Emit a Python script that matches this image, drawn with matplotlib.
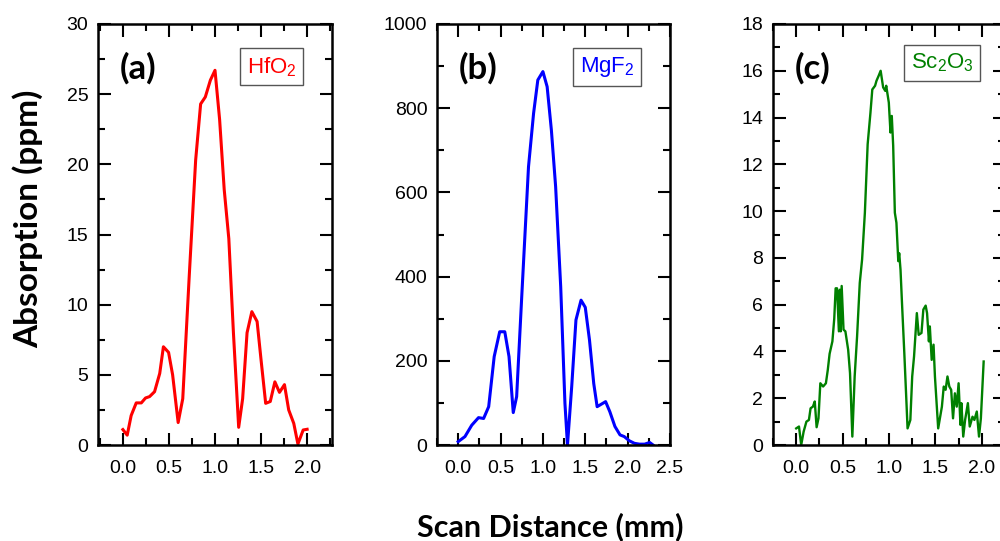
import numpy as np
import matplotlib
matplotlib.use("Agg")
import matplotlib.pyplot as plt
from matplotlib.ticker import MultipleLocator, FormatStrFormatter

plt.rcParams['font.family'] = ['Liberation Sans', 'DejaVu Sans']
plt.rcParams['mathtext.default'] = 'regular'

# ----- (a) HfO2 -----
hfo2_x = [0.0, 0.047, 0.09, 0.145, 0.2, 0.246, 0.29, 0.344, 0.4, 0.44, 0.496, 0.54,
          0.6, 0.65, 0.72, 0.79, 0.844, 0.895, 0.95, 1.0, 1.05, 1.1, 1.15, 1.2,
          1.257, 1.3, 1.348, 1.4, 1.457, 1.5, 1.55, 1.6, 1.65, 1.7, 1.754, 1.8,
          1.855, 1.9, 1.957, 2.0]
hfo2_y = [1.1, 0.7, 2.1, 3.0, 3.0, 3.35, 3.45, 3.8, 5.1, 7.0, 6.6, 5.0,
          1.6, 3.3, 12.0, 20.3, 24.3, 24.8, 26.0, 26.7, 23.2, 18.2, 14.7, 8.0,
          1.26, 3.3, 8.0, 9.5, 8.8, 6.06, 2.97, 3.1, 4.5, 3.75, 4.3, 2.5,
          1.54, 0.07, 1.07, 1.12]

# ----- (b) MgF2 -----
mgf2_x = [0.0, 0.08, 0.16, 0.24, 0.3, 0.36, 0.425, 0.49, 0.55, 0.6, 0.65, 0.69,
          0.75, 0.83, 0.89, 0.94, 1.0, 1.05, 1.1, 1.15, 1.21, 1.26, 1.29, 1.34,
          1.39, 1.45, 1.5, 1.55, 1.6, 1.64, 1.74, 1.79, 1.85, 1.91, 1.96, 2.02,
          2.08, 2.14, 2.2, 2.26, 2.3]
mgf2_y = [8, 20, 47, 65, 63, 91, 210, 269, 269, 210, 77, 115,
          352, 661, 788, 867, 887, 851, 748, 614, 376, 99, 0, 139,
          297, 344, 327, 249, 146, 91, 103, 79, 44, 24, 20, 10,
          4, 2, 2, 6, 0]

# ----- (c) Sc2O3 -----
sc2o3_x = [0.0, 0.03, 0.054, 0.08, 0.11, 0.137, 0.155, 0.18, 0.2, 0.22, 0.24, 0.26,
           0.29, 0.32, 0.34, 0.36, 0.39, 0.41, 0.425, 0.44, 0.46, 0.47, 0.48, 0.49,
           0.51, 0.53, 0.56, 0.58, 0.605, 0.63, 0.656, 0.685, 0.71, 0.74, 0.77, 0.8,
           0.82, 0.85, 0.865, 0.89, 0.91, 0.937, 0.96, 0.97, 0.998, 1.016, 1.03, 1.045,
           1.063, 1.08, 1.1, 1.11, 1.124, 1.14, 1.165, 1.19, 1.2, 1.23, 1.25, 1.27,
           1.3, 1.32, 1.35, 1.37, 1.395, 1.41, 1.43, 1.44, 1.46, 1.48, 1.495, 1.53,
           1.57, 1.59, 1.61, 1.63, 1.65, 1.67, 1.69, 1.71, 1.73, 1.75, 1.77, 1.78,
           1.8, 1.82, 1.85, 1.87, 1.9, 1.92, 1.946, 1.97, 1.99, 2.02]
sc2o3_y = [0.71, 0.79, 0.0, 0.57, 1.0, 1.07, 1.57, 1.64, 1.86, 0.76, 1.14, 2.64,
           2.5, 2.64, 3.2, 3.9, 4.43, 5.4, 6.7, 6.7, 4.86, 6.64, 4.86, 6.8,
           4.93, 4.86, 4.07, 3.07, 0.36, 2.93, 4.64, 6.93, 7.93, 9.93, 12.86, 14.2,
           15.2, 15.36, 15.57, 15.8, 16.0, 15.29, 15.14, 15.36, 14.64, 13.36, 14.07, 12.8,
           9.93, 9.5, 7.86, 8.2, 7.5, 6.07, 3.93, 1.64, 0.71, 1.07, 2.93, 3.79,
           5.64, 4.71, 4.79, 5.79, 5.96, 5.64, 4.43, 5.07, 3.64, 4.29, 2.93, 0.71,
           1.64, 2.5, 2.36, 2.93, 2.5, 2.36, 1.14, 2.21, 1.64, 2.64, 0.86, 1.79,
           0.36, 1.07, 1.79, 0.79, 1.21, 1.07, 1.43, 0.36, 1.14, 3.57]

fig = plt.figure(figsize=(10, 5.41), dpi=100)
bot, h = 96 / 541, 421 / 541

panels = [
    dict(pos=[0.098, bot, 0.234, h], x=hfo2_x, y=hfo2_y, color='#ff0000', lw=2.2,
         xlim=(-0.27, 2.27), xmax=2.0, ylim=(0, 30), ymaj=5, ymin=2.5,
         tag='(a)', name=r'HfO$_2$', bx=0.742, by=0.898),
    dict(pos=[0.437, bot, 0.233, h], x=mgf2_x, y=mgf2_y, color='#0000ff', lw=2.2,
         xlim=(-0.25, 2.5), xmax=2.5, ylim=(0, 1000), ymaj=200, ymin=100,
         tag='(b)', name=r'MgF$_2$', bx=0.73, by=0.898),
    dict(pos=[0.773, bot, 0.232, h], x=sc2o3_x, y=sc2o3_y, color='#008000', lw=1.7,
         xlim=(-0.25, 2.25), xmax=2.0, ylim=(0, 18), ymaj=2, ymin=1,
         tag='(c)', name=r'Sc$_2$O$_3$', bx=0.73, by=0.907),
]

for p in panels:
    ax = fig.add_axes(p['pos'])
    ax.plot(p['x'], p['y'], color=p['color'], linewidth=p['lw'])
    ax.set_xlim(*p['xlim'])
    ax.set_ylim(*p['ylim'])
    ax.set_xticks(np.arange(0, p['xmax'] + 0.01, 0.5))
    ax.xaxis.set_minor_locator(MultipleLocator(0.25))
    ax.xaxis.set_major_formatter(FormatStrFormatter('%.1f'))
    ax.yaxis.set_major_locator(MultipleLocator(p['ymaj']))
    ax.yaxis.set_minor_locator(MultipleLocator(p['ymin']))
    ax.tick_params(which='both', direction='in', top=True, right=True, width=1.5)
    ax.tick_params(which='major', length=9, labelsize=14)
    ax.tick_params(axis='x', which='major', pad=11)
    ax.tick_params(axis='y', which='major', pad=7)
    ax.tick_params(which='minor', length=5)
    for s in ax.spines.values():
        s.set_linewidth(1.8)
    ax.text(0.095, 0.895, p['tag'], transform=ax.transAxes, fontsize=25,
            fontweight='bold', family=['Lato', 'DejaVu Sans'], va='center', ha='left')
    ax.text(p['bx'], p['by'], p['name'], transform=ax.transAxes, fontsize=16,
            color=p['color'], ha='center', va='center',
            bbox=dict(boxstyle='square,pad=0.3', facecolor='white',
                      edgecolor='#555555', linewidth=1))

fig.text(0.028, 0.595, 'Absorption (ppm)', rotation=90, ha='center', va='center',
         fontsize=24, fontweight='bold', family=['Lato', 'DejaVu Sans'])
fig.text(0.55, 0.026, 'Scan Distance (mm)', ha='center', va='center',
         fontsize=22, fontweight='bold', family=['Lato', 'DejaVu Sans'])

fig.savefig('out.png', dpi=100)
